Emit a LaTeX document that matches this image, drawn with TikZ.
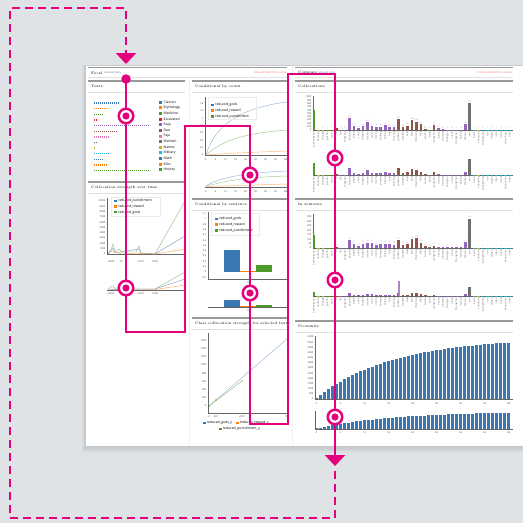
\documentclass[tikz,border=0pt]{standalone}
\usepackage{fontspec}
\setsansfont{Open Sans}
\usepackage{tikz}
\usetikzlibrary{arrows.meta}

\definecolor{backdrop}{HTML}{DFE3E6}
\definecolor{hilite}{HTML}{E5007D}
\definecolor{c0}{HTML}{3A78B4}
\definecolor{c1}{HTML}{FF7F0E}
\definecolor{c2}{HTML}{4C9A2A}
\definecolor{c3}{HTML}{D62728}
\definecolor{c4}{HTML}{9467BD}
\definecolor{c5}{HTML}{8C564B}
\definecolor{c6}{HTML}{E377C2}
\definecolor{c7}{HTML}{6F6F6F}
\definecolor{c8}{HTML}{BCBD22}
\definecolor{c9}{HTML}{17BECF}

\begin{document}
\begin{tikzpicture}[x=1pt, y=-1pt, line join=miter,
    paneltitle/.style={anchor=west, inner sep=0pt, font=\fontsize{3.6}{4.5}\selectfont},
    legtext/.style={anchor=west, inner sep=0pt, font=\sffamily\fontsize{3.4}{4}\selectfont},
    ticktext/.style={inner sep=0.4pt, text=black!75, font=\sffamily\fontsize{2.5}{3}\selectfont},
    barlabel/.style={anchor=east, rotate=90, inner sep=0.2pt, text=black!60, font=\sffamily\fontsize{2.5}{3}\selectfont},
    vallabel/.style={anchor=south, inner sep=0.2pt, font=\sffamily\fontsize{1.9}{2}\selectfont},
    rulebar/.style={draw=black!40, line width=1.2pt},
    thinrule/.style={draw=black!12, line width=0.6pt},
    axis/.style={draw=black!60, line width=0.3pt},
    legbox/.style={draw=black!8, line width=0.4pt},
    ring/.style={circle, draw=hilite, fill=white, line width=2.5pt, minimum size=14.5pt, inner sep=0pt,
      path picture={\fill[hilite] (path picture bounding box.center) circle (3.6pt);}},
    route/.style={draw=hilite, line width=2.5pt},
    backroute/.style={route, dash pattern=on 8pt off 5pt},
    bigtip/.style={-{Triangle[width=20pt,length=11pt]}}
  ]
  \useasboundingbox (0,0) rectangle (523,523);
  \fill[backdrop] (0,0) rectangle (523,523);

  % page with shadow
  \foreach \s in {1,...,5}
    \fill[black, opacity=0.025] (86-\s*0.8,66-\s*0.3) rectangle (523,446+\s*1.3);
  \fill[white] (86,66) rectangle (523,446);
  \draw[black!6, line width=0.5pt] (189,80) -- (189,446) (292,66) -- (292,446);

  % header
  \draw[rulebar] (88,67.5) -- (287,67.5) (295,67.5) -- (513,67.5);
  \draw[thinrule] (88,77.5) -- (287,77.5) (295,77.5) -- (513,77.5);
  \node[paneltitle] (focal) at (91,73) {Focal};
  \node[legtext, text=c0, font=\sffamily\fontsize{2.6}{3}\selectfont] (focalterm) at (104,73) {reduced\_deity};
  \node[legtext, anchor=east, text=red!60, font=\sffamily\fontsize{2.6}{3}\selectfont] (focalcount) at (287,73) {305 selected/770 in corpus};
  \node[paneltitle] (compare) at (298,73) {Compare};
  \node[legtext, text=c0, font=\sffamily\fontsize{2.6}{3}\selectfont] (compareterm) at (318,73) {reduced\_gods};
  \node[legtext, anchor=east, text=red!60, font=\sffamily\fontsize{2.6}{3}\selectfont] (comparecount) at (512,73) {1173 selected/1810 in corpus};

  % panel headers
  \foreach \xa/\xb/\yy/\ttl [count=\k] in {88/185/81/Texts, 88/185/182/Collocation strength over time,
      192/287/81/Conditional by count, 192/287/199/Conditional by sentence,
      192/287/318/Class collocation strength for selected texts,
      295/513/81/Collocations, 295/513/199/In sentence, 295/513/321/Proximity} {
    \draw[rulebar] (\xa,\yy) -- (\xb,\yy);
    \draw[thinrule] (\xa,\yy+11) -- (\xb,\yy+11);
    \node[paneltitle] (title\k) at (\xa+3,\yy+5.6) {\ttl};
  }

  % texts: one dotted row per class
  \foreach \yy/\len/\c/\ttl [count=\k] in {103/119/c0/Classics, 108.7/106.7/c1/Etymology, 114.3/103/c2/Medicine,
      120/98/c3/Excavated, 125.7/150/c4/Ruja, 131.3/117.7/c5/Dao, 137/109/c6/Faja, 142.5/98/c7/Mohism,
      148/96/c8/Names, 153.7/109/c9/Military, 159.3/104/c0/Math, 165/106.7/c1/Misc, 170.7/150/c2/History} {
    \draw[\c, line width=1.3pt, dash pattern=on 1.2pt off 0.8pt] (94,\yy) -- (\len,\yy);
    \fill[\c] (159,\yy-2.4) rectangle ++(3,3);
    \node[legtext] (text\k) at (163.5,\yy-0.9) {\ttl};
  }

  % collocation strength over time
  \draw[axis] (107,198) -- (107,254) -- (185,254);
  \foreach \v [count=\k from 0] in {0,1000,...,10000}
    \node[ticktext, anchor=east] (sy\k) at (106,254-\k*5.3) {\v};
  \draw[c2!60, line width=0.45pt] (108,254) -- (111,250) -- (113,244) -- (115,252) -- (119,249) -- (122,252)
    -- (136,252) -- (139,246) -- (141,253) -- (155,254) -- (185,201);
  \draw[c0!70, line width=0.45pt] (108,254) -- (113,248) -- (115,253) -- (139,249) -- (141,253) -- (155,254) -- (185,236);
  \draw[c1!70, line width=0.45pt] (108,253) -- (113,251) -- (118,253) -- (155,254) -- (185,249);
  \draw[legbox] (111,197) rectangle (160,216);
  \foreach \c/\ttl [count=\k] in {c0/reduced\_punishment, c1/reduced\_reward, c2/reduced\_gods} {
    \fill[\c] (114,199.6+\k*5.6-5.6) rectangle ++(2.6,2.6);
    \node[legtext] (sleg\k) at (118,201+\k*5.6-5.6) {\ttl};
  }
  \foreach \v/\xx [count=\k] in {-0440/111, 79/121, 2010/141, 1040/155}
    \node[ticktext] (sx\k) at (\xx,262) {\v};
  \draw[axis] (107,290) -- (185,290);
  \draw[c2!60, line width=0.45pt] (108,289) -- (112,286) -- (116,289) -- (155,289) -- (185,272);
  \draw[c0!70, line width=0.45pt] (108,289.5) -- (155,289) -- (185,279);
  \draw[c1!70, line width=0.45pt] (108,289.5) -- (155,289.5) -- (185,285);
  \foreach \v/\xx [count=\k] in {-0440/111, 79/121, 2010/141, 1040/155}
    \node[ticktext] (smx\k) at (\xx,294) {\v};

  % conditional by count
  \draw[axis] (205,97) -- (205,155) -- (287,155);
  \foreach \v [count=\k from 0] in {0,0.2,0.4,0.6,0.8,1,1.2,1.4}
    \node[ticktext, anchor=east] (ny\k) at (204,155-\k*7.33) {\v};
  \foreach \k in {0,...,48} \draw[axis] (205.5+\k*1.667,155) -- ++(0,1.2);
  \foreach \v [count=\k from 0] in {0,6,...,48} {
    \node[ticktext] (nx\k) at (205.5+\k*10,160) {\v};
    \node[ticktext] (nmx\k) at (205.5+\k*10,192) {\v};
  }
  \draw[c0!50, line width=0.5pt] (206,155) .. controls (215,125) and (240,108) .. (287,102);
  \draw[c2!50, line width=0.5pt] (206,155) .. controls (225,138) and (250,133) .. (287,130);
  \draw[c1!55, line width=0.5pt] (206,155) .. controls (230,153) and (260,152) .. (287,151);
  \draw[legbox] (208,97) rectangle (256,119);
  \foreach \c/\ttl [count=\k] in {c0/reduced\_gods, c1/reduced\_reward, c2/reduced\_punishment} {
    \fill[\c] (211,103.5+\k*5.7-5.7) rectangle ++(2.6,2.6);
    \node[legtext] (nleg\k) at (215,105+\k*5.7-5.7) {\ttl};
  }
  \draw[axis] (205,187) -- (287,187);
  \foreach \k in {0,...,48} \draw[axis] (205.5+\k*1.667,187) -- ++(0,1.2);
  \draw[c0!50, line width=0.5pt] (206,186) .. controls (220,177) and (245,173) .. (287,171);
  \draw[c2!50, line width=0.5pt] (206,186.5) .. controls (230,179) and (255,177) .. (287,176);
  \draw[c1!55, line width=0.5pt] (206,186.5) -- (287,184);

  % conditional by sentence
  \draw[axis] (208,212) -- (208,279) -- (287,279);
  \foreach \v [count=\k from 0] in {-0.1,0,0.1,0.2,0.3,0.4,0.5,0.6,0.7,0.8,0.9,1,1.1}
    \node[ticktext, anchor=east] (ey\k) at (207,277.3-\k*5.3) {\v};
  \fill[c0] (224,250.3) rectangle (240,272);
  \fill[c1] (240,271.3) rectangle (256,272.4);
  \fill[c2] (256,264.6) rectangle (272,272);
  \draw[legbox] (211,213) rectangle (259,235);
  \foreach \c/\ttl [count=\k] in {c0/reduced\_gods, c1/reduced\_reward, c2/reduced\_punishment} {
    \fill[\c] (215,217.7+\k*5.7-5.7) rectangle ++(2.6,2.6);
    \node[legtext] (eleg\k) at (219,219+\k*5.7-5.7) {\ttl};
  }
  \node[ticktext] (ex) at (248,283) {0};
  \fill[c0] (224,300) rectangle (240,307);
  \fill[c1] (240,306.2) rectangle (256,307);
  \fill[c2] (256,304.5) rectangle (272,307);
  \draw[axis] (208,307) -- (287,307);
  \node[ticktext] (emx) at (248,311) {0};

  % class collocation strength for selected texts
  \draw[axis] (208,333) -- (208,413) -- (287,413);
  \foreach \v [count=\k from 0] in {0,200,...,1600}
    \node[ticktext, anchor=east] (ky\k) at (207,406-\k*8.2) {\v};
  \foreach \v/\xx [count=\k] in {0/209, 467/216, 2072/242, 10/286}
    \node[ticktext] (kx\k) at (\xx,416.5) {\v};
  \draw[c0!50, line width=0.5pt] (209,406) -- (287,339);
  \draw[c2!60, line width=0.5pt] (209,406) -- (242,381);
  \fill[c2] (209,406) circle (0.9pt) (242,381) circle (0.6pt);
  \fill[c1] (216,400) circle (0.8pt);
  \foreach \c/\ttl/\xx/\yy [count=\k] in {c0/reduced\_gods\_y/203/423, c1/reduced\_reward\_y/236/423, c2/reduced\_punishment\_y/219/429} {
    \fill[\c] (\xx,\yy-1.3) rectangle ++(2.6,2.6);
    \node[legtext] (kleg\k) at (\xx+3.6,\yy) {\ttl};
  }

  % collocations and in sentence: bars, main and context
  \draw[axis] (313,96) -- (313,130) -- (513,130) (313,175) -- (513,175);
  \draw[axis] (313,214) -- (313,248) -- (513,248) (313,296) -- (513,296);
  \foreach \v [count=\k from 0] in {0,100,...,1000}
    \node[ticktext, anchor=east] (cy\k) at (312,130-\k*3.3) {\v};
  \foreach \v [count=\k from 0] in {0,50,...,350}
    \node[ticktext, anchor=east] (iy\k) at (312,248-\k*4.43) {\v};
  \foreach \c/\a/\b/\w [count=\i from 0] in {c2/600/140/buchengshou, c8/8/4/tianming, c8/6/4/shangdi,
      c2/5/4/guishen, c2/4/4/zuxian, c3/60/15/jisi, c4/10/5/lijie, c4/15/4/fengshan, c4/360/85/baoying,
      c4/110/45/xingfa, c4/60/20/zhufu, c4/120/45/chengfa, c4/245/55/tiandao, c4/110/55/renxin,
      c4/100/30/dexing, c4/100/45/yinyang, c4/140/45/wuxing, c4/90/45/taiyi, c4/90/35/shenling,
      c5/327/85/yuanhun, c5/80/35/xiangrui, c5/130/40/zaiyi, c5/300/95/jiaoji, c5/250/105/miaotang,
      c5/170/55/sheji, c5/30/20/wuzhu, c7/10/10/bushi, c5/148/25/mengzhan, c4/55/15/tianxia,
      c4/20/10/junwang, c4/15/8/shengren, c4/10/8/xiaozi, c4/8/8/zhongchen, c4/10/6/baixing,
      c4/170/60/shanren, c7/812/313/eren, c9/5/5/huofu, c8/5/5/shouming, c9/6/5/zhangsheng,
      c9/5/5/xian, c9/8/5/mingtu, c9/7/5/dijun, c9/10/5/tiandi, c9/9/5/shanchuan, c9/6/5/hebo} {
    \pgfmathsetmacro\bx{314+4.45*\i}
    \fill[\c] (\bx-1.3,130) rectangle (\bx+1.3,130-\a*0.033);
    \fill[\c] (\bx-1.3,175) rectangle (\bx+1.3,175-\a*0.02);
    \fill[\c] (\bx-1.3,248) rectangle (\bx+1.3,248-\b*0.094);
    \fill[\c] (\bx-1.3,296) rectangle (\bx+1.3,296-\b*0.03);
    \node[vallabel, text=\c!70] (cv\i) at (\bx,129.5-\a*0.033) {\a};
    \node[vallabel, text=\c!70] (iv\i) at (\bx,247.5-\b*0.094) {\b};
    \node[barlabel] (cl\i) at (\bx,131) {\w};
    \node[barlabel] (cml\i) at (\bx,176) {\w};
    \node[barlabel] (il\i) at (\bx,249) {\w};
    \node[barlabel] (iml\i) at (\bx,297) {\w};
  }
  \fill[c4!80] (397.5,281) rectangle (400.1,296);

  % proximity
  \draw[axis] (315,336) -- (315,399) -- (513,399) (315,411) -- (315,429) -- (513,429);
  \foreach \v [count=\k from 0] in {0,500,...,6000}
    \node[ticktext, anchor=east] (py\k) at (314,399-\k*5.17) {\v};
  \foreach \i in {0,...,48} {
    \pgfmathsetmacro\ph{60*(1-exp(-\i/19))+1.2}
    \pgfmathsetmacro\qh{17*(1-exp(-\i/19))+0.6}
    \fill[c0] (316.5+4*\i-1.3,399) rectangle ++(2.6,-\ph);
    \fill[c0] (316.5+4*\i-1.3,429) rectangle ++(2.6,-\qh);
  }
  \foreach \v [count=\k from 0] in {0,6,...,48} {
    \node[ticktext] (px\k) at (316.5+\k*24,403.5) {\v};
    \node[ticktext] (pmx\k) at (316.5+\k*24,433) {\v};
  }

  % route: stops and corners
  \node[circle, fill=hilite, minimum size=9.5pt, inner sep=0pt] (start) at (126,79) {};
  \coordinate (c1) at (126,332);
  \coordinate (c2) at (185,332);
  \coordinate (c3) at (185,126);
  \coordinate (c4) at (250,126);
  \coordinate (c5) at (250,424);
  \coordinate (c6) at (288,424);
  \coordinate (c7) at (288,74);
  \coordinate (c8) at (335,74);
  \coordinate (endtip) at (335,466);
  % way back, dashed
  \coordinate (d0) at (335,471);
  \coordinate (d1) at (335,518);
  \coordinate (d2) at (10,518);
  \coordinate (d3) at (10,8);
  \coordinate (d4) at (126,8);
  \coordinate (starttip) at (126,64);

  \draw[route, bigtip] (start.center) -- (c1) -- (c2) -- (c3) -- (c4) -- (c5) -- (c6) -- (c7) -- (c8) -- (endtip);
  \draw[backroute, bigtip] (d0) -- (d1) -- (d2) -- (d3) -- (d4) -- (starttip);

  % rings on the route
  \node[ring] (r1) at (126,116) {};
  \node[ring] (r2) at (126,288) {};
  \node[ring] (r3) at (250,175) {};
  \node[ring] (r4) at (250,293) {};
  \node[ring] (r5) at (335,158) {};
  \node[ring] (r6) at (335,280) {};
  \node[ring] (r7) at (335,417) {};
\end{tikzpicture}
\end{document}
